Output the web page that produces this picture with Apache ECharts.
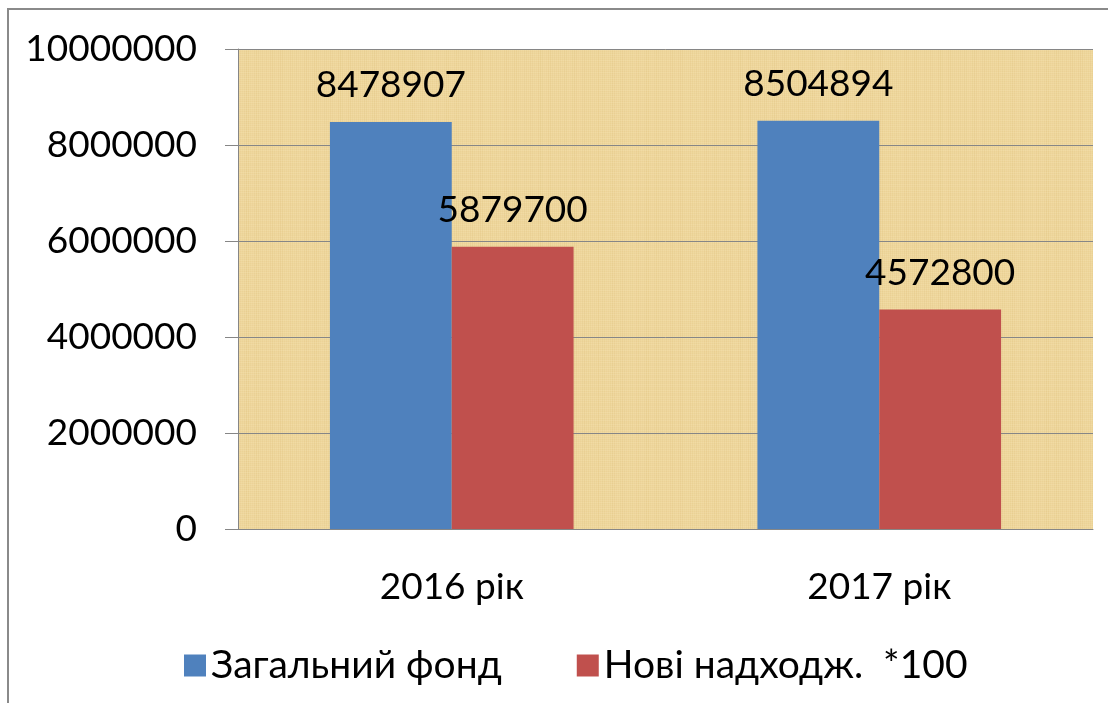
<!DOCTYPE html>
<html>
<head>
<meta charset="utf-8">
<script src="https://cdn.jsdelivr.net/npm/echarts@6/dist/echarts.min.js"></script>
<style>
  html, body { margin: 0; padding: 0; background: #fff; }
  #chart { width: 1108px; height: 703px; }
</style>
</head>
<body>
<div id="chart"></div>
<script>
const categories = ["2016 рік", "2017 рік"];
const generalFund = [8478907, 8504894];
const newArrivals = [5879700, 4572800];
const seriesNames = ["Загальний фонд", "Нові надходж.  *100"];

// parchment texture for plot area (deterministic, no data)
function makeParchment() {
  const c = document.createElement("canvas");
  c.width = 200;
  c.height = 200;
  const ctx = c.getContext("2d");
  ctx.fillStyle = "#eed69c";
  ctx.fillRect(0, 0, 200, 200);
  for (let i = 0; i < 200; i += 2) {
    const a = 0.06 + 0.08 * Math.abs(Math.sin(i * 0.37) * Math.cos(i * 1.3));
    ctx.fillStyle = `rgba(200,160,75,${a})`;
    ctx.fillRect(i, 0, 1, 200);
    const b = 0.08 + 0.1 * Math.abs(Math.sin(i * 0.53 + 1));
    ctx.fillStyle = `rgba(255,244,205,${b})`;
    ctx.fillRect(0, i, 200, 1);
  }
  return c;
}

const font = "Lato, 'Open Sans', sans-serif";
const chart = echarts.init(document.getElementById("chart"));

chart.setOption({
  animation: false,
  textStyle: { fontFamily: font },
  graphic: [
    {
      type: "rect",
      shape: { x: 8, y: 9, width: 1130, height: 730 },
      style: { fill: "none", stroke: "#8a8a8a", lineWidth: 2 },
      silent: true,
    },
  ],
  grid: {
    left: 238,
    right: 15,
    top: 49,
    bottom: 174,
    show: true,
    borderWidth: 0,
    backgroundColor: { image: makeParchment(), repeat: "repeat" },
  },
  legend: {
    data: seriesNames,
    left: 179,
    top: 641,
    itemWidth: 22,
    itemHeight: 22,
    itemGap: 75,
    icon: "rect",
    textStyle: { fontSize: 39, color: "#000", fontFamily: font },
  },
  xAxis: {
    type: "category",
    data: categories,
    axisLine: { lineStyle: { color: "#868686" } },
    axisTick: { length: 13, lineStyle: { color: "#868686" } },
    axisLabel: { fontSize: 37, color: "#000", margin: 40 },
  },
  yAxis: {
    type: "value",
    min: 0,
    max: 10000000,
    interval: 2000000,
    axisLine: { show: true, lineStyle: { color: "#868686" } },
    axisTick: { show: true, length: 13, lineStyle: { color: "#868686" } },
    axisLabel: { fontSize: 37, color: "#000", margin: 41, formatter: (v) => String(v) },
    splitLine: { lineStyle: { color: "#868686" } },
  },
  series: [
    {
      name: seriesNames[0],
      type: "bar",
      data: generalFund,
      barGap: "0%",
      barCategoryGap: "43%",
      itemStyle: { color: "#4f81bd" },
      label: { show: true, position: "top", distance: 18, fontSize: 37, color: "#000" },
    },
    {
      name: seriesNames[1],
      type: "bar",
      data: newArrivals,
      itemStyle: { color: "#c0504d" },
      label: { show: true, position: "top", distance: 18, fontSize: 37, color: "#000" },
    },
  ],
});
</script>
</body>
</html>
